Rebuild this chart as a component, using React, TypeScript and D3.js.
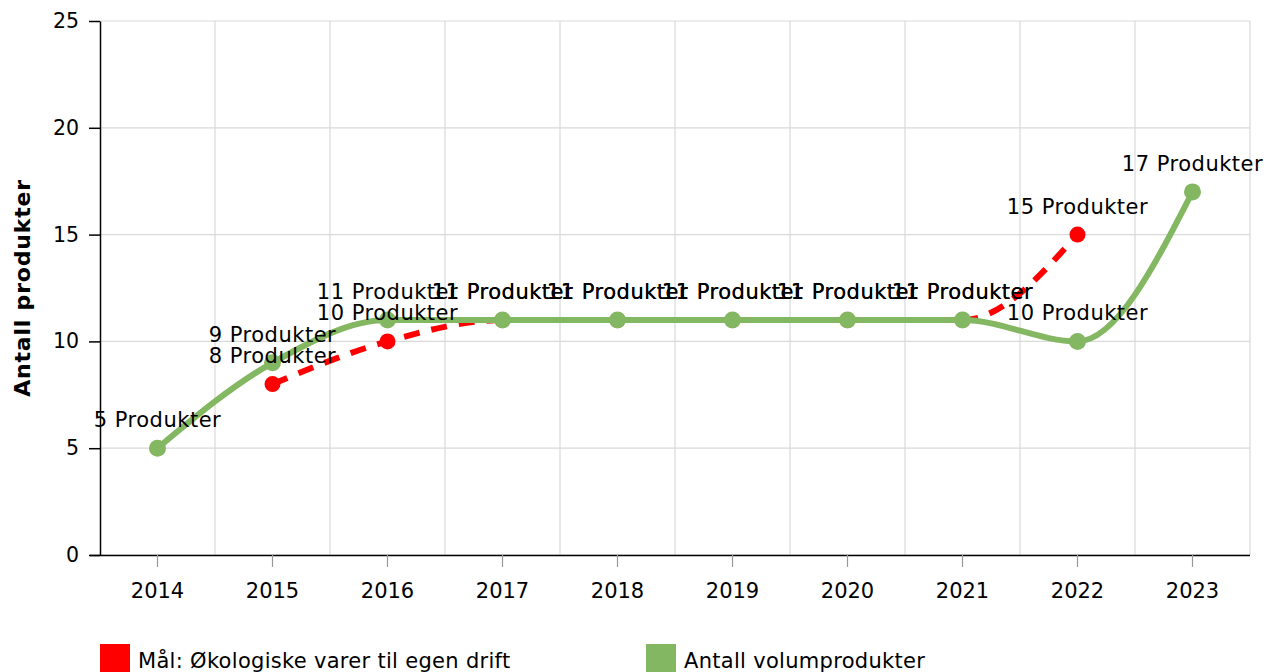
import React, { useEffect, useRef } from "react";
import * as d3 from "d3";

const years = ["2014", "2015", "2016", "2017", "2018", "2019", "2020", "2021", "2022", "2023"];
const greenValues: (number | null)[] = [5, 9, 11, 11, 11, 11, 11, 11, 10, 17];
const redValues: (number | null)[] = [null, 8, 10, 11, 11, 11, 11, 11, 15, null];
const yTicks = [0, 5, 10, 15, 20, 25];
const seriesNames = ["Mål: Økologiske varer til egen drift", "Antall volumprodukter"];
const colors = ["#ff0000", "#84b761"];
const labelSuffix = " Produkter";

const W = 1276;
const H = 672;
const FONT = "'DejaVu Sans', Verdana, sans-serif";

export default function App() {
  const ref = useRef<SVGSVGElement>(null);
  useEffect(() => {
    const svg = d3.select(ref.current);
    svg.selectAll("*").remove();
    const x = d3.scaleBand().domain(years).range([100, 1250]);
    const cx = (d: string) => (x(d) as number) + x.bandwidth() / 2;
    const y = d3.scaleLinear().domain([0, 25]).range([555, 21]);

    const grid = svg.append("g");
    yTicks.forEach((t) => {
      grid.append("line").attr("x1", 100).attr("x2", 1250).attr("y1", y(t)).attr("y2", y(t))
        .attr("stroke", "#d9d9d9").attr("stroke-width", 1.2);
    });
    years.forEach((yr) => {
      const xb = (x(yr) as number) + x.bandwidth();
      grid.append("line").attr("x1", xb).attr("x2", xb).attr("y1", 21).attr("y2", 555)
        .attr("stroke", "#d9d9d9").attr("stroke-width", 1.2);
    });

    // y axis
    const yAxis = svg.append("g").attr("transform", "translate(100,0)")
      .call(d3.axisLeft(y).tickValues(yTicks).tickSize(11).tickPadding(10).tickSizeOuter(0));
    yAxis.select(".domain").attr("stroke", "#000").attr("stroke-width", 1.5);
    yAxis.selectAll(".tick line").attr("stroke", "#000").attr("stroke-width", 1.5);
    yAxis.selectAll("text").attr("font-family", FONT).attr("font-size", 20.5).attr("fill", "#000");

    // x axis
    const xAxis = svg.append("g").attr("transform", "translate(0,555)")
      .call(d3.axisBottom(x).tickSize(12).tickPadding(16).tickSizeOuter(0));
    xAxis.select(".domain").attr("stroke", "#000").attr("stroke-width", 1.5)
      .attr("d", "M90,0.5H1250");
    xAxis.selectAll(".tick line").attr("stroke", "#999").attr("stroke-width", 1.2);
    xAxis.selectAll("text").attr("font-family", FONT).attr("font-size", 21).attr("fill", "#000");

    svg.append("text").attr("transform", "translate(30,288) rotate(-90)")
      .attr("text-anchor", "middle").attr("font-family", FONT).attr("font-size", 22)
      .attr("letter-spacing", 0.8)
      .attr("font-weight", "bold").attr("fill", "#000").text("Antall produkter");

    const series = [redValues, greenValues];
    const line = d3.line<[string, number | null]>()
      .defined((d) => d[1] !== null)
      .x((d) => cx(d[0]))
      .y((d) => y(d[1] as number))
      .curve(d3.curveMonotoneX);

    series.forEach((vals, si) => {
      const pts = years.map((yr, i) => [yr, vals[i]] as [string, number | null]);
      svg.append("path").datum(pts).attr("d", line as any).attr("fill", "none")
        .attr("stroke", colors[si]).attr("stroke-width", 6)
        .attr("stroke-dasharray", si === 0 ? "16,12" : null)
        .attr("stroke-linecap", "butt");
      svg.append("g").selectAll("circle").data(pts.filter((d) => d[1] !== null)).join("circle")
        .attr("cx", (d) => cx(d[0])).attr("cy", (d) => y(d[1] as number))
        .attr("r", si === 0 ? 8 : 8.5).attr("fill", colors[si]);
    });

    series.forEach((vals, si) => {
      const pts = years.map((yr, i) => [yr, vals[i]] as [string, number | null]).filter((d) => d[1] !== null);
      svg.append("g").selectAll("text").data(pts).join("text")
        .attr("x", (d) => cx(d[0])).attr("y", (d) => y(d[1] as number) - 21)
        .attr("text-anchor", "middle").attr("font-family", FONT).attr("font-size", 21)
        .attr("letter-spacing", 0.5)
        .attr("fill", "#000").text((d) => `${d[1]}${labelSuffix}`);
    });

    // legend
    const legendX = [100, 646];
    seriesNames.forEach((name, i) => {
      svg.append("rect").attr("x", legendX[i]).attr("y", 644).attr("width", 30).attr("height", 30)
        .attr("fill", colors[i]);
      svg.append("text").attr("x", legendX[i] + 38).attr("y", 668).attr("font-family", FONT)
        .attr("font-size", 21).attr("letter-spacing", 0.3).attr("fill", "#000").text(name);
    });
  }, []);
  return (
    <div style={{ position: "absolute", left: 0, top: 0 }}>
      <svg ref={ref} width={W} height={H} style={{ display: "block" }} />
    </div>
  );
}
